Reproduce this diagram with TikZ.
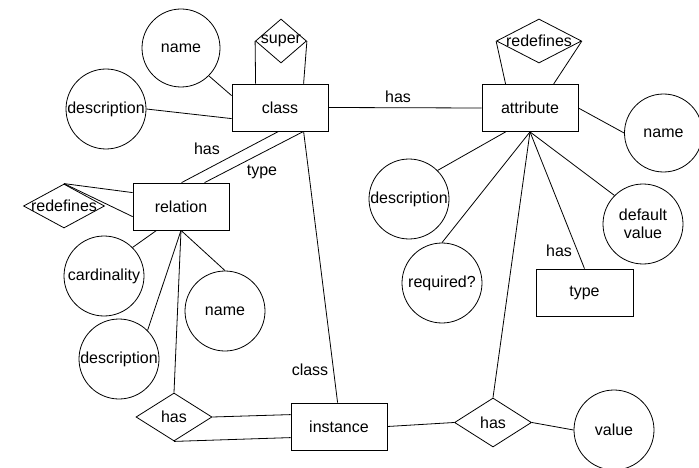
\documentclass[tikz,border=0pt]{standalone}
\usepackage{fontspec}
\setmainfont{Liberation Sans}
\usetikzlibrary{shapes.geometric,calc}
\begin{document}
\begin{tikzpicture}[x=1pt,y=-1pt,
  every node/.style={font=\fontsize{16}{18}\selectfont},
  ent/.style={draw, rectangle, minimum width=96pt, minimum height=47pt, inner sep=0pt, line width=0.8pt},
  attr/.style={draw, circle, minimum size=80pt, inner sep=0pt, line width=0.8pt, align=center},
  rel/.style={draw, diamond, inner sep=0pt, line width=0.8pt},
  lbl/.style={inner sep=0pt},
  conn/.style={line width=0.8pt}]
\useasboundingbox (0,0) rectangle (699,468);

% entities
\node[ent] (class) at (280,107.5) {class};
\node[ent] (attribute) at (530,108) {attribute};
\node[ent] (relation) at (181,206.5) {relation};
\node[ent, minimum width=97pt] (type) at (584.5,292.5) {type};
\node[ent] (instance) at (339,426.5) {instance};

% relationships
\node[rel, minimum width=51pt, minimum height=44pt] (super) at (281,41) {\makebox[0pt]{super}};
\node[rel, minimum width=85pt, minimum height=44pt] (redefT) at (539,41) {\makebox[0pt]{redefines}};
\node[rel, minimum width=81pt, minimum height=44pt] (redefL) at (64,206) {\makebox[0pt]{redefines}};
\node[rel, minimum width=76pt, minimum height=48pt] (hasL) at (174,417) {\makebox[0pt]{has}};
\node[rel, minimum width=77pt, minimum height=49pt] (hasR) at (493,422.5) {\makebox[0pt]{has}};

% attributes
\node[attr, minimum size=78pt] (name1) at (181,48) {name};
\node[attr] (desc1) at (106,109) {description};
\node[attr, minimum size=78pt] (name3) at (663.5,133) {name};
\node[attr] (desc3) at (409,199) {description};
\node[attr] (default) at (643,224) {default\\value};
\node[attr] (required) at (442,283) {required?};
\node[attr] (card) at (104,276) {cardinality};
\node[attr] (desc2) at (119,359) {description};
\node[attr] (name2) at (225,311) {name};
\node[attr] (value) at (614,430) {value};

% labels
\node[lbl] (lhas1) at (398,97) {has};
\node[lbl] (lhas2) at (207,149) {has};
\node[lbl] (ltype) at (262,172) {type};
\node[lbl] (lclass) at (310,370) {class};
\node[lbl] (lhas3) at (559,251) {has};

% class connectors
\draw[conn] (name1.south east) -- ($(class.north west)+(0,12)$);
\draw[conn] (desc1.east) -- ($(class.north west)+(0,35)$);
\draw[conn] (super.west) -- ($(class.north west)+(24,0)$);
\draw[conn] (super.east) -- ($(class.north west)+(72,0)$);
\draw[conn] (class.east) -- (attribute.west);
\draw[conn] ($(class.south west)+(47,0)$) -- ($(relation.north west)+(49,0)$);
\draw[conn] ($(class.south west)+(72,0)$) -- ($(relation.north west)+(72,0)$);
\draw[conn] ($(class.south west)+(72,0)$) -- ($(instance.north west)+(47,0)$);

% relation connectors
\draw[conn] (redefL.north) -- ($(relation.north west)+(0,10)$);
\draw[conn] (redefL.north) -- ($(relation.north west)+(0,34)$);
\draw[conn] ($(relation.south west)+(24,0)$) -- (card.north east);
\draw[conn] (relation.south) -- (desc2.north east);
\draw[conn] (relation.south) -- (name2.north);
\draw[conn] (relation.south) -- (hasL.north);
\draw[conn] (hasL.east) -- ($(instance.north west)+(0,12)$);
\draw[conn] (hasL.south) -- ($(instance.north west)+(0,35)$);

% attribute connectors
\draw[conn] (redefT.west) -- ($(attribute.north west)+(24,0)$);
\draw[conn] (redefT.east) -- ($(attribute.north west)+(72,0)$);
\draw[conn] (attribute.east) -- (name3.west);
\draw[conn] ($(attribute.south west)+(24,0)$) -- (desc3.north east);
\draw[conn] (attribute.south) -- (required.north);
\draw[conn] (attribute.south) -- (hasR.north);
\draw[conn] (attribute.south) -- (type.north);
\draw[conn] (attribute.south) -- (default.north west);

% instance connectors
\draw[conn] (instance.east) -- (hasR.west);
\draw[conn] (hasR.east) -- (value.west);
\end{tikzpicture}
\end{document}
